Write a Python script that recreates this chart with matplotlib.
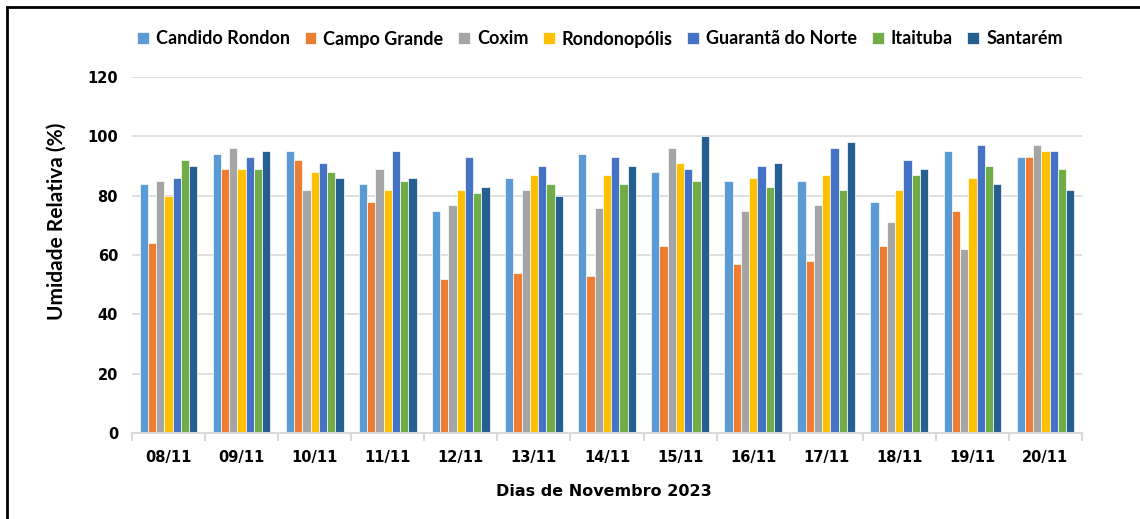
import matplotlib
matplotlib.use("Agg")
import matplotlib.pyplot as plt
import matplotlib.patches as patches
import numpy as np

days = ["08/11", "09/11", "10/11", "11/11", "12/11", "13/11", "14/11",
        "15/11", "16/11", "17/11", "18/11", "19/11", "20/11"]

cities = ["Candido Rondon", "Campo Grande", "Coxim", "Rondonopólis",
          "Guarantã do Norte", "Itaituba", "Santarém"]

candido_rondon = [84, 94, 95, 84, 75, 86, 94, 88, 85, 85, 78, 95, 93]
campo_grande = [64, 89, 92, 78, 52, 54, 53, 63, 57, 58, 63, 75, 93]
coxim = [85, 96, 82, 89, 77, 82, 76, 96, 75, 77, 71, 62, 97]
rondonopolis = [80, 89, 88, 82, 82, 87, 87, 91, 86, 87, 82, 86, 95]
guaranta = [86, 93, 91, 95, 93, 90, 93, 89, 90, 96, 92, 97, 95]
itaituba = [92, 89, 88, 85, 81, 84, 84, 85, 83, 82, 87, 90, 89]
santarem = [90, 95, 86, 86, 83, 80, 90, 100, 91, 98, 89, 84, 82]

series = [candido_rondon, campo_grande, coxim, rondonopolis, guaranta, itaituba, santarem]
colors = ["#5B9BD5", "#ED7D31", "#A5A5A5", "#FFC000", "#4472C4", "#70AD47", "#255E91"]

fig = plt.figure(figsize=(11.4, 5.19), dpi=100)
ax = fig.add_axes([132 / 1140, 1 - 433 / 519, 950 / 1140, 356 / 519])

x = np.arange(len(days))
n = len(series)
group_w = 0.79
bw = group_w / n
for i, (vals, name, c) in enumerate(zip(series, cities, colors)):
    offs = -group_w / 2 + bw * (i + 0.5)
    ax.bar(x + offs, vals, width=bw, color=c, edgecolor="white", linewidth=0.5,
           label=name, zorder=3)

ax.set_xlim(-0.5, len(days) - 0.5)
ax.set_ylim(0, 120)
ax.set_yticks(np.arange(0, 121, 20))
ax.grid(axis="y", color="#D9D9D9", linewidth=1.2, zorder=0)
ax.set_axisbelow(True)

for s in ["top", "right", "left"]:
    ax.spines[s].set_visible(False)
ax.spines["bottom"].set_color("#D9D9D9")
ax.spines["bottom"].set_linewidth(1.5)
ax.spines["bottom"].set_zorder(4)

ax.set_xticks(x)
ax.set_xticklabels(days, fontsize=10.5, fontweight="bold", fontfamily="DejaVu Sans")
ax.set_xticks(np.arange(-0.5, len(days), 1), minor=True)
ax.tick_params(axis="x", which="major", length=0, pad=12)
ax.tick_params(axis="x", which="minor", length=6, width=1.5, color="#D9D9D9")
ax.tick_params(axis="y", length=0, pad=10, labelsize=10.5)
for t in ax.get_yticklabels():
    t.set_fontweight("bold")
    t.set_fontfamily("DejaVu Sans")

fig.text(57 / 1140, 1 - 221 / 519, "Umidade Relativa (%)", rotation=90,
         ha="center", va="center", fontsize=15, fontweight="bold", fontfamily="Lato")
fig.text(604 / 1140, 1 - 492 / 519, "Dias de Novembro 2023",
         ha="center", va="center", fontsize=11.5, fontweight="bold", fontfamily="DejaVu Sans")

fig.legend(loc="center", bbox_to_anchor=(600 / 1140, 1 - 39 / 519), ncol=7,
           frameon=False, prop={"family": "Lato", "weight": "bold", "size": 13},
           handlelength=0.65, handleheight=0.65, handletextpad=0.4, columnspacing=0.8)

fig.patches.append(patches.Rectangle((7 / 1140, -0.1), 1.2, 1.1 - 7 / 519,
                                     transform=fig.transFigure, fill=False,
                                     edgecolor="black", linewidth=2))

fig.savefig("out.png", dpi=100)
